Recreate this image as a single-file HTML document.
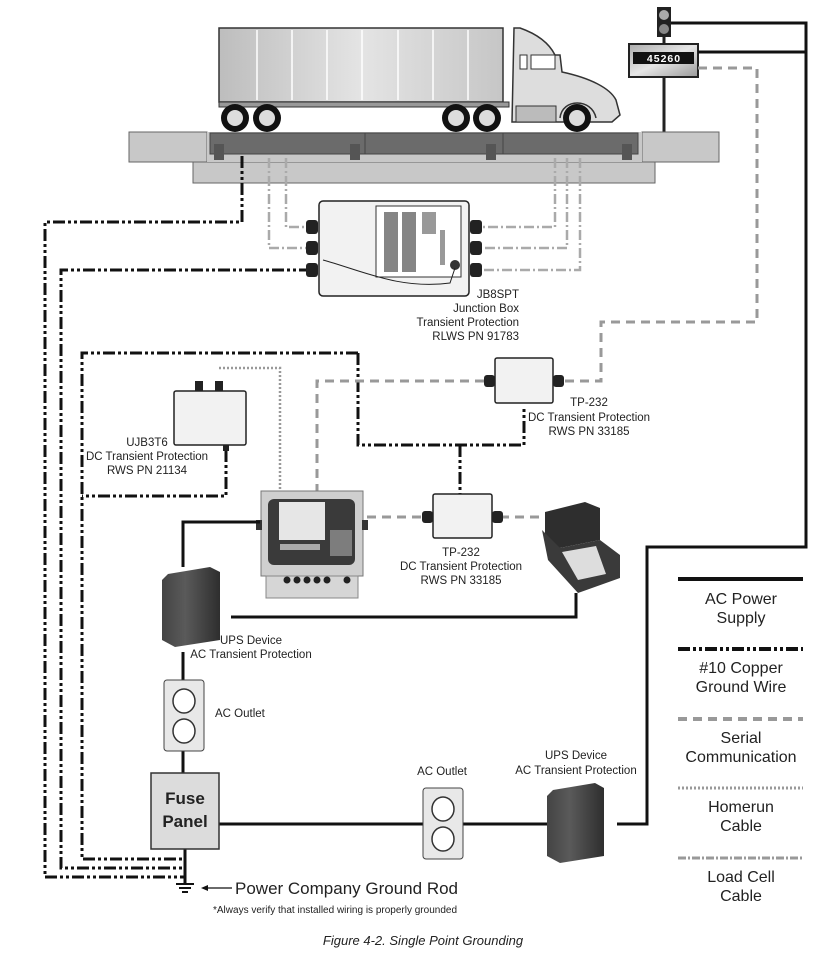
<!DOCTYPE html>
<html><head><meta charset="utf-8"><style>
html,body{margin:0;padding:0;background:#fff}
svg{display:block}
text{font-family:"Liberation Sans",sans-serif;fill:#222}
</style></head><body>
<svg width="823" height="961" viewBox="0 0 823 961" xmlns="http://www.w3.org/2000/svg">
<defs>
<linearGradient id="tr" x1="0" y1="0" x2="1" y2="0"><stop offset="0" stop-color="#bdbdbd"/><stop offset="0.5" stop-color="#e4e4e4"/><stop offset="1" stop-color="#c6c6c6"/></linearGradient>
<linearGradient id="ups" x1="0" y1="0" x2="1" y2="0"><stop offset="0" stop-color="#444"/><stop offset="0.4" stop-color="#5a5a5a"/><stop offset="1" stop-color="#2e2e2e"/></linearGradient>
<linearGradient id="disp" x1="0" y1="0" x2="1" y2="1"><stop offset="0" stop-color="#aaa"/><stop offset="0.5" stop-color="#e6e6e6"/><stop offset="1" stop-color="#999"/></linearGradient>
</defs>

<rect x="657" y="7" width="14" height="30" fill="#222"/>
<circle cx="664" cy="15" r="5" fill="#aaa"/><circle cx="664" cy="29" r="5" fill="#888"/>
<line x1="664" y1="37" x2="664" y2="44" stroke="#222" stroke-width="3"/>
<line x1="664" y1="77" x2="664" y2="132" stroke="#222" stroke-width="3"/>
<rect x="629" y="44" width="69" height="33" fill="url(#disp)" stroke="#222" stroke-width="2"/>
<rect x="633" y="52" width="61" height="12" fill="#111"/>
<text x="664" y="62" font-size="10.5" font-weight="bold" text-anchor="middle" style="fill:#fff" letter-spacing="1">45260</text>
<polyline points="671,23 806,23 806,547 647,547 647,824 617,824" fill="none" stroke="#111" stroke-width="3"/>
<line x1="698" y1="52" x2="806" y2="52" stroke="#111" stroke-width="3"/>

<polyline points="698,68 757,68 757,322 601,322 601,381 563,381" fill="none" stroke="#999" stroke-width="3" stroke-dasharray="9,6"/>

<rect x="129" y="132" width="78" height="30" fill="#c8c8c8" stroke="#666"/>
<rect x="642" y="132" width="77" height="30" fill="#c8c8c8" stroke="#666"/>
<rect x="193" y="162" width="462" height="21" fill="#c8c8c8" stroke="#666"/>
<rect x="207" y="132" width="435" height="30" fill="#c8c8c8"/>
<rect x="210" y="133" width="428" height="21" fill="#6b6b6b" stroke="#444"/>
<line x1="365" y1="133" x2="365" y2="154" stroke="#444"/>
<line x1="503" y1="133" x2="503" y2="154" stroke="#444"/>
<g fill="#555"><rect x="214" y="144" width="10" height="16"/><rect x="350" y="144" width="10" height="16"/><rect x="486" y="144" width="10" height="16"/><rect x="622" y="144" width="10" height="16"/></g>

<rect x="219" y="28" width="284" height="74" fill="url(#tr)" stroke="#333" stroke-width="1.5"/>
<g stroke="#fff" stroke-width="1.5"><line x1="257" y1="30" x2="257" y2="100"/><line x1="292" y1="30" x2="292" y2="100"/><line x1="327" y1="30" x2="327" y2="100"/><line x1="362" y1="30" x2="362" y2="100"/><line x1="398" y1="30" x2="398" y2="100"/><line x1="433" y1="30" x2="433" y2="100"/><line x1="468" y1="30" x2="468" y2="100"/></g>
<rect x="219" y="102" width="290" height="5" fill="#999" stroke="#333"/>
<path d="M514,28 L520,28 C540,35 550,45 555,55 L560,55 L562,72 C590,78 610,88 616,100 L620,115 L612,122 L512,122 Z" fill="#ddd" stroke="#333" stroke-width="1.5"/>
<rect x="531" y="55" width="24" height="14" fill="#fff" stroke="#333"/>
<rect x="520" y="55" width="7" height="14" fill="#fff" stroke="#333"/>
<rect x="516" y="106" width="40" height="16" fill="#bbb" stroke="#333"/>
<path d="M560,118 C562,98 592,98 596,118" fill="none" stroke="#333" stroke-width="1.5"/>
<g fill="#111"><circle cx="235" cy="118" r="14"/><circle cx="267" cy="118" r="14"/><circle cx="456" cy="118" r="14"/><circle cx="487" cy="118" r="14"/><circle cx="577" cy="118" r="14"/></g>
<g fill="#ddd"><circle cx="235" cy="118" r="8"/><circle cx="267" cy="118" r="8"/><circle cx="456" cy="118" r="8"/><circle cx="487" cy="118" r="8"/><circle cx="577" cy="118" r="8"/></g>

<g fill="none" stroke="#aaa" stroke-width="2.5" stroke-dasharray="10,3,2,3">
<polyline points="269,158 269,248 311,248"/>
<polyline points="286,158 286,227 311,227"/>
<polyline points="555,158 555,227 477,227"/>
<polyline points="567,158 567,248 477,248"/>
<polyline points="580,158 580,270 477,270"/>
</g>

<g fill="none" stroke="#111" stroke-width="3" stroke-dasharray="12,3,3,3,3,3">
<polyline points="242,156 242,222 45,222 45,877 185,877"/>
<polyline points="311,270 61,270 61,868 185,868"/>
<polyline points="358,353 82,353 82,859 185,859"/>
<polyline points="358,353 358,445 524,445 524,406"/>
<polyline points="460,445 460,494"/>
<polyline points="226,450 226,496 82,496"/>
</g>

<polyline points="219,368 280,368 280,492" fill="none" stroke="#999" stroke-width="2.5" stroke-dasharray="2,2"/>
<polyline points="484,381 317,381 317,492" fill="none" stroke="#999" stroke-width="3" stroke-dasharray="9,6"/>
<g stroke="#999" stroke-width="3" stroke-dasharray="9,6"><line x1="367" y1="517" x2="424" y2="517"/><line x1="500" y1="517" x2="540" y2="517"/></g>

<rect x="319" y="201" width="150" height="95" rx="4" fill="#f2f2f2" stroke="#222" stroke-width="1.5"/>
<rect x="376" y="206" width="85" height="71" fill="#fff" stroke="#333"/>
<g fill="#333"><rect x="384" y="212" width="14" height="60" opacity="0.6"/><rect x="402" y="212" width="14" height="60" opacity="0.6"/><rect x="422" y="212" width="14" height="22" opacity="0.5"/><rect x="440" y="230" width="5" height="35" opacity="0.5"/></g>
<circle cx="455" cy="265" r="5" fill="#333"/>
<path d="M323,260 C360,270 400,290 450,283 L455,268" fill="none" stroke="#222"/>
<g fill="#222"><rect x="306" y="220" width="12" height="14" rx="3"/><rect x="306" y="241" width="12" height="14" rx="3"/><rect x="306" y="263" width="12" height="14" rx="3"/><rect x="470" y="220" width="12" height="14" rx="3"/><rect x="470" y="241" width="12" height="14" rx="3"/><rect x="470" y="263" width="12" height="14" rx="3"/></g>
<g font-size="11.5" text-anchor="end"><text x="519" y="298">JB8SPT</text><text x="519" y="312">Junction Box</text><text x="519" y="326">Transient Protection</text><text x="519" y="340">RLWS PN 91783</text></g>

<rect x="174" y="391" width="72" height="54" rx="2" fill="#f2f2f2" stroke="#222" stroke-width="1.5"/>
<rect x="195" y="381" width="8" height="10" fill="#222"/><rect x="215" y="381" width="8" height="10" fill="#222"/>
<rect x="223" y="445" width="6" height="6" fill="#222"/>
<g font-size="11.5" text-anchor="middle"><text x="147" y="446">UJB3T6</text><text x="147" y="460">DC Transient Protection</text><text x="147" y="474">RWS PN 21134</text></g>

<rect x="495" y="358" width="58" height="45" rx="2" fill="#f2f2f2" stroke="#222" stroke-width="1.5"/>
<rect x="484" y="375" width="11" height="12" rx="3" fill="#222"/><rect x="553" y="375" width="11" height="12" rx="3" fill="#222"/>
<g font-size="11.5" text-anchor="middle"><text x="589" y="406">TP-232</text><text x="589" y="421">DC Transient Protection</text><text x="589" y="435">RWS PN 33185</text></g>

<rect x="261" y="491" width="102" height="85" fill="#cfcfcf" stroke="#777"/>
<rect x="268" y="499" width="87" height="66" rx="6" fill="#3a3a3a"/>
<rect x="279" y="502" width="46" height="38" fill="#e6e6e6"/>
<g fill="#aaa"><rect x="280" y="544" width="40" height="6"/><rect x="330" y="530" width="22" height="26" opacity="0.6"/></g>
<rect x="266" y="576" width="92" height="22" fill="#d6d6d6" stroke="#888"/>
<g fill="#222"><circle cx="287" cy="580" r="3.5"/><circle cx="297" cy="580" r="3.5"/><circle cx="307" cy="580" r="3.5"/><circle cx="317" cy="580" r="3.5"/><circle cx="327" cy="580" r="3.5"/><circle cx="347" cy="580" r="3.5"/></g>
<rect x="256" y="520" width="6" height="10" fill="#333"/><rect x="362" y="520" width="6" height="10" fill="#333"/>

<rect x="433" y="494" width="59" height="44" rx="2" fill="#f2f2f2" stroke="#222" stroke-width="1.5"/>
<rect x="422" y="511" width="11" height="12" rx="3" fill="#222"/><rect x="492" y="511" width="11" height="12" rx="3" fill="#222"/>
<g font-size="11.5" text-anchor="middle"><text x="461" y="556">TP-232</text><text x="461" y="570">DC Transient Protection</text><text x="461" y="584">RWS PN 33185</text></g>

<!-- printer -->
<path d="M545,512 L585,502 L600,508 L600,540 L560,548 L545,545 Z" fill="#2e2e2e"/>
<path d="M542,530 L560,548 L600,540 L620,555 L620,578 L578,593 L548,560 Z" fill="#3a3a3a"/>
<path d="M562,552 L596,546 L606,574 L578,580 Z" fill="#ddd"/>

<g fill="none" stroke="#111" stroke-width="3">
<polyline points="260,522 183,522 183,567"/>
<polyline points="576,593 576,617 231,617"/>
<line x1="183" y1="652" x2="183" y2="680"/>
<line x1="183" y1="751" x2="183" y2="773"/>
<line x1="219" y1="824" x2="547" y2="824"/>
<line x1="185" y1="849" x2="185" y2="883"/>
</g>

<path d="M168,574 L210,567 L220,572 L220,640 L175,647 L162,640 L162,580 Z" fill="url(#ups)"/>
<g font-size="11.5" text-anchor="middle"><text x="251" y="644">UPS Device</text><text x="251" y="658">AC Transient Protection</text></g>

<rect x="164" y="680" width="40" height="71" rx="3" fill="#e8e8e8" stroke="#444"/>
<ellipse cx="184" cy="701" rx="11" ry="12" fill="#fff" stroke="#333" stroke-width="1.5"/>
<ellipse cx="184" cy="731" rx="11" ry="12" fill="#fff" stroke="#333" stroke-width="1.5"/>
<text x="215" y="717" font-size="11.5">AC Outlet</text>

<rect x="151" y="773" width="68" height="76" fill="#dcdcdc" stroke="#333" stroke-width="1.5"/>
<g font-size="17" font-weight="bold" text-anchor="middle"><text x="185" y="804">Fuse</text><text x="185" y="827">Panel</text></g>

<rect x="423" y="788" width="40" height="71" rx="3" fill="#e8e8e8" stroke="#444"/>
<ellipse cx="443" cy="809" rx="11" ry="12" fill="#fff" stroke="#333" stroke-width="1.5"/>
<ellipse cx="443" cy="839" rx="11" ry="12" fill="#fff" stroke="#333" stroke-width="1.5"/>
<text x="442" y="775" font-size="11.5" text-anchor="middle">AC Outlet</text>

<path d="M553,790 L595,783 L604,788 L604,856 L560,863 L547,856 L547,796 Z" fill="url(#ups)"/>
<g font-size="11.5" text-anchor="middle"><text x="576" y="759">UPS Device</text><text x="576" y="774">AC Transient Protection</text></g>

<g stroke="#111" stroke-width="2"><line x1="176" y1="884" x2="194" y2="884"/><line x1="179" y1="888" x2="191" y2="888"/><line x1="182" y1="892" x2="188" y2="892"/></g>
<line x1="203" y1="888" x2="232" y2="888" stroke="#111" stroke-width="1.3"/>
<path d="M201,888 L208,885 L208,891 Z" fill="#111"/>
<text x="235" y="894" font-size="17">Power Company Ground Rod</text>
<text x="213" y="913" font-size="10">*Always verify that installed wiring is properly grounded</text>
<text x="423" y="945" font-size="13" font-style="italic" text-anchor="middle">Figure 4-2. Single Point Grounding</text>

<line x1="678" y1="579" x2="803" y2="579" stroke="#111" stroke-width="4"/>
<line x1="678" y1="649" x2="803" y2="649" stroke="#111" stroke-width="4" stroke-dasharray="12,3,3,3,3,3"/>
<line x1="678" y1="719" x2="803" y2="719" stroke="#999" stroke-width="4" stroke-dasharray="9,6"/>
<line x1="678" y1="788" x2="803" y2="788" stroke="#999" stroke-width="3" stroke-dasharray="2,2"/>
<line x1="678" y1="858" x2="803" y2="858" stroke="#999" stroke-width="3" stroke-dasharray="8,2,2,2"/>
<g font-size="16" text-anchor="middle">
<text x="741" y="604">AC Power</text><text x="741" y="623">Supply</text>
<text x="741" y="673">#10 Copper</text><text x="741" y="692">Ground Wire</text>
<text x="741" y="743">Serial</text><text x="741" y="762">Communication</text>
<text x="741" y="812">Homerun</text><text x="741" y="831">Cable</text>
<text x="741" y="882">Load Cell</text><text x="741" y="901">Cable</text>
</g>
</svg>
</body></html>
